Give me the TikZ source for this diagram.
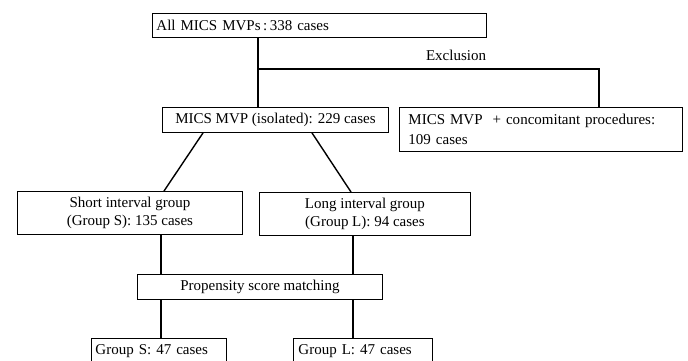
\documentclass[tikz,border=0pt]{standalone}
\usepackage{fontspec}
\setmainfont{Liberation Serif}
\begin{document}
\begin{tikzpicture}[x=1pt,y=-1pt,
  box/.style={draw=black, line width=0.9pt, rectangle, anchor=north west, inner ysep=0pt,
    font=\fontsize{15}{18}\selectfont},
  lbox/.style={box, align=left},
  cbox/.style={box, align=center},
  conn/.style={draw=black, line width=1.4pt},
  lbl/.style={font=\fontsize{15}{18}\selectfont, inner sep=0pt}]
\useasboundingbox (0,0) rectangle (688,360);
\begin{scope}
\clip (0,0) rectangle (688,360);
% boxes
\node[lbox, minimum width=334pt, minimum height=24pt, text width=326pt, inner xsep=4pt] (all) at (152,13) {All MICS MVPs\,:\,338 cases};
\node[cbox, minimum width=226pt, minimum height=25pt] (iso) at (162,107) {MICS MVP (isolated): 229 cases};
\node[lbox, minimum width=283pt, minimum height=44pt, text width=265pt, inner xsep=9pt,
  font=\fontsize{15}{20}\selectfont] (conc) at (399,107) {MICS MVP\ \ + concomitant procedures:\\109 cases};
\node[cbox, minimum width=225pt, minimum height=43pt] (gs) at (17,191) {Short interval group\\(Group S): 135 cases};
\node[cbox, minimum width=211pt, minimum height=43pt] (gl) at (259,192) {Long interval group\\(Group L): 94 cases};
\node[cbox, minimum width=245pt, minimum height=25pt] (psm) at (137,274) {Propensity score matching};
\node[lbox, minimum width=135pt, minimum height=25pt, text width=127pt, inner xsep=4pt] (ms) at (91,338) {Group S: 47 cases};
\node[lbox, minimum width=137pt, minimum height=25pt, text width=129pt, inner xsep=5pt] (ml) at (293,338) {Group L: 47 cases};
% connectors
\coordinate (j) at (258,69);
\coordinate (jr) at (599,69);
\draw[conn] (all.south -| j) -- (j) -- (iso.north -| j);
\draw[conn] (j) -- (jr) -- (conc.north -| jr);
\node[lbl] (excl) at (456,55) {Exclusion};
\draw[conn] (iso.south -| 203,0) -- (gs.north -| 164,0);
\draw[conn] (iso.south -| 312,0) -- (gl.north -| 351,0);
\draw[conn] (gs.south -| 161,0) -- (psm.north -| 161,0);
\draw[conn] (gl.south -| 353,0) -- (psm.north -| 353,0);
\draw[conn] (psm.south -| 161,0) -- (ms.north -| 161,0);
\draw[conn] (psm.south -| 353,0) -- (ml.north -| 353,0);
\end{scope}
\end{tikzpicture}
\end{document}
